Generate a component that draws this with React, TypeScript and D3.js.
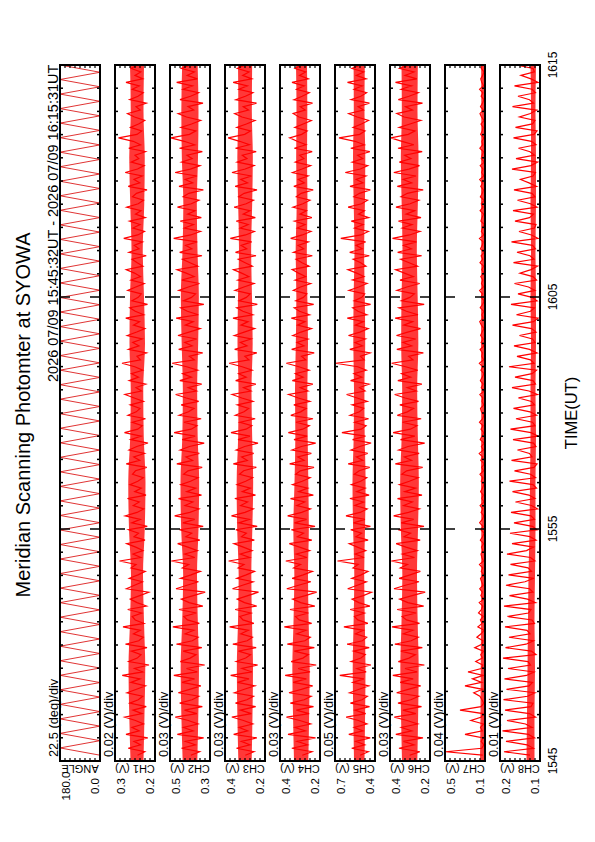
import React, { useEffect, useRef } from "react";
import * as d3 from "d3";

// panel names, scale per division and the printed end values
const CHANNELS = ["ANGLE", "CH1 (V)", "CH2 (V)", "CH3 (V)", "CH4 (V)", "CH5 (V)", "CH6 (V)", "CH7 (V)", "CH8 (V)"];
const DIV_LABELS = ["22.5 (deg)/div", "0.02 (V)/div", "0.03 (V)/div", "0.03 (V)/div", "0.03 (V)/div", "0.05 (V)/div", "0.03 (V)/div", "0.04 (V)/div", "0.01 (V)/div"];
const HIGH_LABELS = ["180.0", "0.3", "0.5", "0.4", "0.4", "0.7", "0.4", "0.5", "0.2"];
const LOW_LABELS = ["0.0", "0.2", "0.3", "0.2", "0.2", "0.4", "0.2", "0.1", "0.1"];
// lower end of each panel (deg for ANG, mV for channels) and size of one division
const PANEL_LOW = [0, 180, 280, 180, 180, 350, 180, 140, 120];
const PANEL_DIV = [22.5, 20, 30, 30, 30, 50, 30, 40, 10];

const TIME_TICKS = ["1545", "1555", "1605", "1615"];
const TITLE = "Meridian Scanning Photomter at SYOWA";
const PERIOD = "2026 07/09 15:45:32UT - 2026 07/09 16:15:31UT";

// minutes after 15:00 covered by the samples
const SAMPLE_START = 45.25;
const SAMPLE_END = 75;
// the dense part of every trace, read every two minutes (15:45 ... 16:15)
const CORE_MINUTES = [45, 47, 49, 51, 53, 55, 57, 59, 61, 63, 65, 67, 69, 71, 73, 75];

const ANG = [
  0, 180, 0, 180, 0, 180, 0, 180, 0, 180, 0, 180, 0, 180, 0, 180, 0, 180, 0, 180,
  0, 180, 0, 180, 0, 180, 0, 180, 0, 180, 0, 180, 0, 180, 0, 180, 0, 180, 0, 180,
  0, 180, 0, 180, 0, 180, 0, 180, 0, 180, 0, 180, 0, 180, 0, 180, 0, 180, 0, 180,
  0, 180, 0, 180, 0, 180, 0, 180, 0, 180, 0, 180, 0, 180, 0, 180, 0, 180, 0, 180,
  0, 180, 0, 180, 0, 180, 0, 180, 0, 180, 0, 180, 0, 180, 0, 180,
];

const CH1 = [
  250, 221, 287, 238, 264, 209, 296, 243, 272, 226, 258, 301, 232, 268, 215, 281, 247, 229, 292, 254,
  218, 276, 240, 311, 229, 262, 204, 285, 251, 236, 274, 212, 298, 245, 227, 266, 239, 308, 224, 259,
  271, 233, 289, 214, 252, 279, 241, 205, 294, 262, 230, 283, 248, 219, 276, 256, 322, 237, 268, 228,
  257, 293, 220, 264, 246, 286, 211, 273, 239, 299, 252, 225, 267, 243, 290, 216, 261, 235, 280, 249,
  227, 270, 258, 213, 295, 241, 265, 222, 284, 253, 208, 277, 236, 302, 249, 231, 271, 218, 288, 255,
  240, 279, 226, 263, 300, 234, 256, 217, 283, 246, 274, 229, 261, 312, 238, 252, 214, 286, 244, 269,
  231, 291, 253, 220, 266, 242, 297, 225, 259, 281, 210, 272, 247, 235, 289, 257, 223, 276, 238, 262,
  295, 228, 251, 272, 215, 284, 244, 263, 230, 305, 249, 222, 268, 240, 282, 219, 258, 236, 293, 247,
  226, 270, 254, 212, 287, 241, 264, 231, 299, 250, 223, 275, 245, 260, 218, 285, 238, 267, 326, 252,
  233, 278, 246, 221, 262, 290, 239, 256, 215, 281, 248, 227, 271, 243, 296, 229, 260, 237, 275, 251,
];
const CH1_CORE_LO = [226, 222, 219, 224, 228, 221, 218, 225, 227, 220, 224, 229, 223, 221, 226, 224];
const CH1_CORE_HI = [278, 283, 286, 280, 276, 284, 287, 279, 277, 282, 280, 274, 279, 283, 277, 280];

const CH2 = [
  395, 342, 451, 368, 427, 318, 476, 381, 439, 352, 410, 488, 359, 433, 326, 462, 388, 347, 470, 402,
  335, 448, 373, 497, 356, 421, 312, 458, 399, 364, 441, 329, 481, 386, 351, 429, 377, 503, 344, 415,
  437, 362, 466, 323, 405, 452, 380, 309, 484, 418, 349, 457, 394, 338, 446, 408, 512, 371, 432, 355,
  413, 474, 341, 425, 390, 463, 321, 443, 372, 492, 401, 346, 430, 383, 469, 331, 419, 366, 455, 397,
  352, 438, 412, 327, 479, 385, 424, 344, 459, 403, 315, 447, 369, 495, 393, 358, 436, 333, 465, 409,
  376, 453, 348, 422, 486, 361, 411, 330, 461, 392, 444, 354, 420, 507, 374, 404, 324, 468, 387, 431,
  360, 472, 406, 339, 428, 381, 483, 350, 416, 456, 317, 440, 391, 367, 467, 410, 343, 449, 375, 423,
  478, 353, 400, 445, 328, 462, 389, 426, 357, 498, 396, 337, 434, 379, 458, 332, 414, 370, 475, 392,
  346, 441, 407, 320, 466, 384, 429, 358, 489, 398, 340, 450, 387, 418, 326, 463, 372, 435, 515, 403,
  365, 454, 391, 336, 421, 471, 378, 412, 322, 460, 397, 348, 442, 385, 480, 356, 417, 374, 452, 401,
];
const CH2_CORE_LO = [356, 350, 346, 353, 358, 349, 345, 354, 357, 351, 347, 355, 359, 352, 349, 354];
const CH2_CORE_HI = [444, 452, 456, 447, 441, 453, 457, 446, 443, 450, 455, 445, 440, 449, 452, 447];

const CH3 = [
  298, 246, 351, 271, 322, 229, 368, 284, 335, 253, 309, 379, 262, 327, 236, 357, 289, 249, 363, 304,
  241, 344, 276, 386, 258, 318, 224, 352, 296, 267, 339, 233, 373, 287, 255, 325, 280, 392, 247, 312,
  331, 264, 359, 230, 303, 347, 283, 219, 375, 315, 251, 349, 293, 243, 341, 306, 398, 272, 328, 257,
  310, 366, 244, 321, 292, 355, 227, 337, 274, 381, 300, 250, 326, 285, 361, 237, 316, 268, 348, 296,
  254, 333, 308, 232, 370, 286, 320, 248, 353, 302, 222, 342, 270, 384, 294, 259, 330, 239, 358, 306,
  278, 346, 252, 319, 377, 264, 309, 235, 356, 293, 338, 257, 317, 395, 276, 301, 229, 362, 288, 327,
  263, 364, 305, 242, 324, 282, 372, 253, 313, 350, 226, 336, 292, 269, 360, 307, 246, 343, 277, 320,
  369, 256, 299, 340, 234, 357, 290, 323, 260, 388, 297, 244, 329, 281, 352, 238, 311, 271, 365, 293,
  249, 338, 305, 228, 359, 285, 325, 261, 378, 299, 245, 347, 288, 316, 233, 357, 274, 332, 401, 302,
  267, 349, 292, 240, 318, 362, 279, 311, 231, 355, 298, 252, 337, 286, 371, 259, 314, 276, 346, 300,
];
const CH3_CORE_LO = [260, 255, 252, 258, 262, 256, 251, 257, 261, 254, 258, 263, 257, 253, 259, 257];
const CH3_CORE_HI = [340, 346, 349, 342, 338, 347, 350, 341, 339, 345, 342, 336, 341, 346, 340, 342];

const CH4 = [
  286, 228, 349, 255, 317, 207, 372, 268, 330, 236, 301, 381, 245, 322, 219, 358, 275, 233, 366, 292,
  224, 341, 262, 389, 240, 311, 203, 353, 283, 250, 334, 214, 376, 271, 238, 320, 264, 394, 230, 305,
  327, 249, 360, 211, 296, 344, 268, 200, 379, 309, 235, 347, 281, 226, 338, 297, 385, 258, 323, 242,
  303, 364, 229, 316, 279, 352, 210, 333, 261, 374, 290, 237, 319, 272, 357, 220, 308, 254, 345, 287,
  239, 326, 298, 216, 362, 275, 313, 232, 348, 292, 206, 336, 257, 370, 284, 244, 324, 222, 355, 296,
  263, 337, 241, 310, 368, 252, 299, 223, 346, 281, 328, 245, 307, 382, 265, 291, 215, 350, 276, 318,
  252, 343, 294, 231, 314, 270, 352, 243, 303, 335, 218, 325, 280, 259, 340, 297, 236, 329, 266, 309,
  347, 245, 288, 324, 226, 339, 278, 311, 250, 356, 286, 234, 316, 270, 333, 229, 300, 261, 342, 283,
  240, 322, 293, 221, 337, 274, 310, 251, 345, 288, 236, 328, 277, 302, 227, 334, 264, 317, 362, 290,
  257, 331, 281, 232, 306, 341, 269, 298, 225, 336, 287, 244, 321, 275, 348, 250, 303, 266, 330, 289,
];
const CH4_CORE_LO = [250, 245, 242, 248, 252, 247, 250, 254, 256, 252, 256, 259, 255, 258, 256, 258];
const CH4_CORE_HI = [336, 342, 346, 339, 334, 340, 333, 328, 330, 325, 322, 326, 320, 323, 321, 324];

const CH5 = [
  498, 417, 583, 452, 541, 398, 612, 471, 559, 430, 515, 638, 443, 552, 405, 596, 480, 426, 604, 509,
  412, 571, 461, 702, 438, 531, 391, 588, 491, 447, 564, 408, 629, 476, 433, 545, 466, 661, 421, 522,
  556, 455, 598, 401, 512, 579, 468, 385, 623, 527, 436, 582, 489, 420, 570, 518, 725, 459, 548, 442,
  526, 607, 419, 541, 484, 593, 396, 565, 451, 640, 499, 428, 551, 464, 601, 409, 532, 448, 586, 494,
  432, 557, 508, 403, 618, 472, 535, 423, 590, 502, 389, 574, 445, 681, 487, 439, 553, 414, 599, 506,
  463, 578, 427, 529, 634, 449, 504, 410, 594, 481, 561, 437, 523, 745, 458, 496, 399, 602, 475, 549,
  446, 615, 501, 418, 547, 467, 627, 431, 520, 573, 394, 558, 482, 453, 610, 513, 429, 575, 460, 533,
  621, 440, 493, 568, 407, 603, 477, 540, 444, 692, 490, 416, 555, 469, 587, 413, 516, 456, 619, 484,
  425, 562, 505, 397, 600, 470, 538, 441, 647, 497, 422, 577, 473, 524, 402, 592, 457, 550, 710, 503,
  450, 569, 486, 415, 528, 613, 465, 519, 406, 589, 492, 434, 560, 478, 625, 439, 537, 462, 581, 500,
];
const CH5_CORE_LO = [455, 449, 445, 452, 458, 450, 444, 453, 456, 448, 452, 459, 451, 447, 455, 452];
const CH5_CORE_HI = [560, 567, 573, 564, 557, 569, 575, 563, 560, 567, 564, 555, 563, 570, 562, 564];

const CH6 = [
  302, 241, 366, 276, 339, 222, 385, 289, 352, 254, 318, 394, 265, 343, 231, 372, 295, 248, 380, 311,
  236, 359, 281, 403, 257, 330, 214, 370, 306, 268, 355, 226, 391, 293, 250, 340, 283, 408, 243, 321,
  347, 263, 377, 218, 313, 362, 287, 209, 396, 328, 246, 365, 300, 238, 358, 315, 412, 273, 345, 256,
  324, 383, 239, 336, 297, 371, 216, 353, 278, 398, 309, 244, 338, 286, 375, 228, 331, 267, 363, 304,
  251, 349, 320, 224, 388, 291, 334, 245, 368, 312, 212, 357, 271, 401, 298, 258, 345, 233, 376, 316,
  279, 361, 249, 329, 392, 262, 317, 229, 373, 296, 350, 253, 326, 410, 282, 308, 220, 379, 290, 342,
  266, 381, 314, 237, 337, 284, 389, 252, 322, 367, 215, 351, 301, 274, 378, 319, 242, 360, 280, 333,
  386, 255, 305, 356, 230, 374, 292, 339, 261, 405, 303, 240, 346, 288, 369, 234, 323, 272, 384, 299,
  247, 354, 316, 221, 376, 290, 341, 264, 397, 307, 243, 364, 294, 332, 227, 372, 277, 348, 415, 310,
  270, 365, 300, 235, 335, 379, 285, 327, 225, 370, 306, 250, 353, 291, 387, 259, 330, 276, 362, 305,
];
const CH6_CORE_LO = [256, 251, 248, 254, 258, 252, 247, 253, 257, 250, 254, 259, 253, 249, 255, 253];
const CH6_CORE_HI = [348, 354, 358, 351, 346, 355, 359, 350, 347, 353, 351, 345, 350, 355, 349, 351];

const CH7 = [
  158, 455, 166, 149, 171, 155, 300, 162, 176, 151, 252, 168, 157, 340, 172, 150, 164, 181, 230, 159,
  300, 167, 240, 153, 276, 170, 158, 214, 161, 174, 152, 222, 166, 156, 205, 171, 148, 197, 163, 177,
  154, 192, 169, 158, 186, 150, 173, 161, 182, 155, 167, 176, 149, 170, 159, 184, 153, 165, 172, 157,
  168, 151, 177, 160, 146, 173, 156, 183, 162, 150, 171, 158, 179, 148, 166, 154, 175, 161, 149, 170,
  157, 180, 152, 167, 145, 174, 159, 186, 153, 169, 147, 178, 163, 151, 172, 156, 184, 160, 148, 168,
  176, 150, 164, 158, 181, 146, 170, 155, 177, 162, 149, 173, 157, 185, 151, 166, 160, 179, 147, 171,
  154, 175, 163, 148, 169, 182, 156, 165, 150, 178, 159, 146, 172, 161, 183, 153, 168, 157, 174, 149,
  166, 152, 180, 158, 171, 147, 176, 162, 155, 184, 150, 169, 160, 145, 173, 164, 151, 179, 156, 170,
  148, 177, 161, 153, 174, 159, 182, 150, 167, 156, 178, 146, 170, 163, 152, 181, 158, 165, 149, 175,
  162, 155, 172, 147, 168, 180, 153, 176, 160, 149, 171, 157, 183, 151, 166, 174, 159, 148, 170, 163,
];
const CH7_CORE_LO = [146, 145, 146, 147, 146, 145, 146, 147, 146, 145, 146, 146, 147, 145, 146, 146];
const CH7_CORE_HI = [180, 176, 174, 172, 171, 170, 172, 171, 170, 172, 171, 170, 172, 171, 170, 171];

const CH8 = [
  140, 192, 133, 146, 188, 131, 143, 195, 136, 149, 186, 129, 141, 190, 138, 134, 193, 145, 130, 187,
  142, 135, 191, 147, 132, 184, 139, 144, 194, 128, 137, 189, 148, 133, 182, 140, 146, 190, 131, 136,
  185, 143, 138, 192, 129, 145, 181, 134, 141, 188, 150, 132, 183, 137, 144, 179, 130, 139, 186, 147,
  133, 176, 128, 140, 180, 126, 135, 172, 131, 138, 178, 125, 137, 169, 130, 142, 175, 127, 134, 181,
  129, 139, 171, 132, 126, 177, 136, 141, 165, 128, 133, 174, 124, 138, 179, 130, 135, 168, 127, 140,
  173, 131, 137, 163, 125, 142, 176, 129, 134, 170, 136, 127, 182, 132, 139, 166, 126, 141, 172, 130,
  135, 161, 128, 137, 175, 133, 124, 167, 139, 131, 178, 126, 136, 164, 130, 143, 171, 127, 134, 160,
  138, 125, 173, 132, 140, 166, 129, 135, 177, 124, 137, 162, 131, 128, 170, 141, 133, 174, 126, 139,
  165, 130, 136, 172, 127, 142, 159, 134, 129, 176, 138, 125, 168, 131, 140, 163, 128, 137, 173, 132,
  126, 169, 135, 130, 161, 139, 127, 175, 133, 141, 164, 129, 136, 171, 124, 138, 158, 131, 134, 167,
];
const CH8_CORE_LO = [131, 131, 130, 131, 130, 129, 129, 128, 129, 128, 128, 129, 128, 128, 129, 128];
const CH8_CORE_HI = [147, 146, 145, 144, 143, 141, 140, 139, 139, 138, 139, 138, 139, 138, 138, 139];

const SERIES = [ANG, CH1, CH2, CH3, CH4, CH5, CH6, CH7, CH8];
const CORE_LO = [null, CH1_CORE_LO, CH2_CORE_LO, CH3_CORE_LO, CH4_CORE_LO, CH5_CORE_LO, CH6_CORE_LO, CH7_CORE_LO, CH8_CORE_LO];
const CORE_HI = [null, CH1_CORE_HI, CH2_CORE_HI, CH3_CORE_HI, CH4_CORE_HI, CH5_CORE_HI, CH6_CORE_HI, CH7_CORE_HI, CH8_CORE_HI];

export default function App() {
  const svgRef = useRef<SVGSVGElement>(null);

  useEffect(() => {
    const width = 595;
    const height = 842;
    const font = "'Liberation Sans', Arial, Helvetica, sans-serif";

    // frame geometry of the rotated plot
    const top = 65;
    const bottom = 761;
    const firstLeft = 60;
    const panelW = 40;
    const panelStep = 55;

    const svg = d3.select(svgRef.current);
    svg.selectAll("*").remove();
    svg.attr("width", width).attr("height", height);
    svg.append("rect").attr("width", width).attr("height", height).attr("fill", "#fff");

    // time runs upwards
    const yscale = d3.scaleLinear().domain([45, 75]).range([bottom, top]);
    const minutes = d3.range(45, 76);

    const rotText = (g: any, x: number, y: number, angle: number, txt: string, size: number, anchor: string) =>
      g.append("text")
        .attr("transform", `translate(${x},${y}) rotate(${angle})`)
        .attr("text-anchor", anchor)
        .attr("font-family", font)
        .attr("font-size", size)
        .attr("fill", "#000")
        .text(txt);

    const defs = svg.append("defs");

    SERIES.forEach((values, k) => {
      const L = firstLeft + k * panelStep;
      const lo = PANEL_LOW[k];
      const hi = lo + 8 * PANEL_DIV[k];
      const xscale = d3.scaleLinear().domain([lo, hi]).range([L + panelW, L]);

      const times = d3.range(values.length).map(
        (i) => SAMPLE_START + (i * (SAMPLE_END - SAMPLE_START)) / (values.length - 1)
      );

      defs.append("clipPath").attr("id", `clip${k}`)
        .append("rect").attr("x", L).attr("y", top).attr("width", panelW).attr("height", bottom - top);

      const plot = svg.append("g").attr("clip-path", `url(#clip${k})`);

      // dense middle of the trace
      const coreLo = CORE_LO[k];
      const coreHi = CORE_HI[k];
      if (coreLo && coreHi) {
        const area = d3.area<number>()
          .y((d, i) => yscale(CORE_MINUTES[i]))
          .x0((d) => xscale(d))
          .x1((d, i) => xscale(coreHi[i]))
          .curve(d3.curveMonotoneY);
        plot.append("path")
          .datum(coreLo)
          .attr("d", area)
          .attr("fill", "#ff0000")
          .attr("fill-opacity", 0.78);
      }

      const line = d3.line<number>()
        .x((d) => xscale(d))
        .y((d, i) => yscale(times[i]));

      plot.append("path")
        .datum(values)
        .attr("d", line)
        .attr("fill", "none")
        .attr("stroke", k === 0 ? "#d80000" : "#ff0000")
        .attr("stroke-width", k === 0 ? 0.8 : 1.2);

      const axisG = svg.append("g").attr("stroke", "#000");

      // minute ticks on both long edges, longer every ten minutes
      minutes.forEach((m) => {
        const len = (m - 45) % 10 === 0 ? 10 : 3;
        const yy = yscale(m);
        axisG.append("line").attr("x1", L).attr("x2", L + len).attr("y1", yy).attr("y2", yy).attr("stroke-width", 1.5);
        axisG.append("line").attr("x1", L + panelW).attr("x2", L + panelW - len).attr("y1", yy).attr("y2", yy).attr("stroke-width", 1.5);
      });

      // division ticks on the short edges
      d3.range(1, 8).forEach((j) => {
        const xx = xscale(lo + j * PANEL_DIV[k]);
        axisG.append("line").attr("x1", xx).attr("x2", xx).attr("y1", top).attr("y2", top + 3).attr("stroke-width", 1.2);
        axisG.append("line").attr("x1", xx).attr("x2", xx).attr("y1", bottom).attr("y2", bottom - 3).attr("stroke-width", 1.2);
      });

      svg.append("rect")
        .attr("x", L).attr("y", top).attr("width", panelW).attr("height", bottom - top)
        .attr("fill", "none").attr("stroke", "#000").attr("stroke-width", 2);

      rotText(svg, L - 2, 757, -90, DIV_LABELS[k], 12.8, "start");
      rotText(svg, L + 10, 786, -90, HIGH_LABELS[k], 11.5, "middle");
      rotText(svg, L + 39, 786, -90, LOW_LABELS[k], 11.5, "middle");
      rotText(svg, L + panelW / 2, 765, 180, CHANNELS[k], 11, "middle");
    });

    TIME_TICKS.forEach((t, i) => {
      rotText(svg, 557, yscale(45 + i * 10), -90, t, 12, "middle");
    });

    rotText(svg, 577, 413, -90, "TIME(UT)", 16.5, "middle");
    rotText(svg, 30, 415, -90, TITLE, 20, "middle");
    rotText(svg, 58, 382, -90, PERIOD, 14.5, "start");
  }, []);

  return <svg ref={svgRef} style={{ position: "absolute", left: 0, top: 0, display: "block" }} />;
}
